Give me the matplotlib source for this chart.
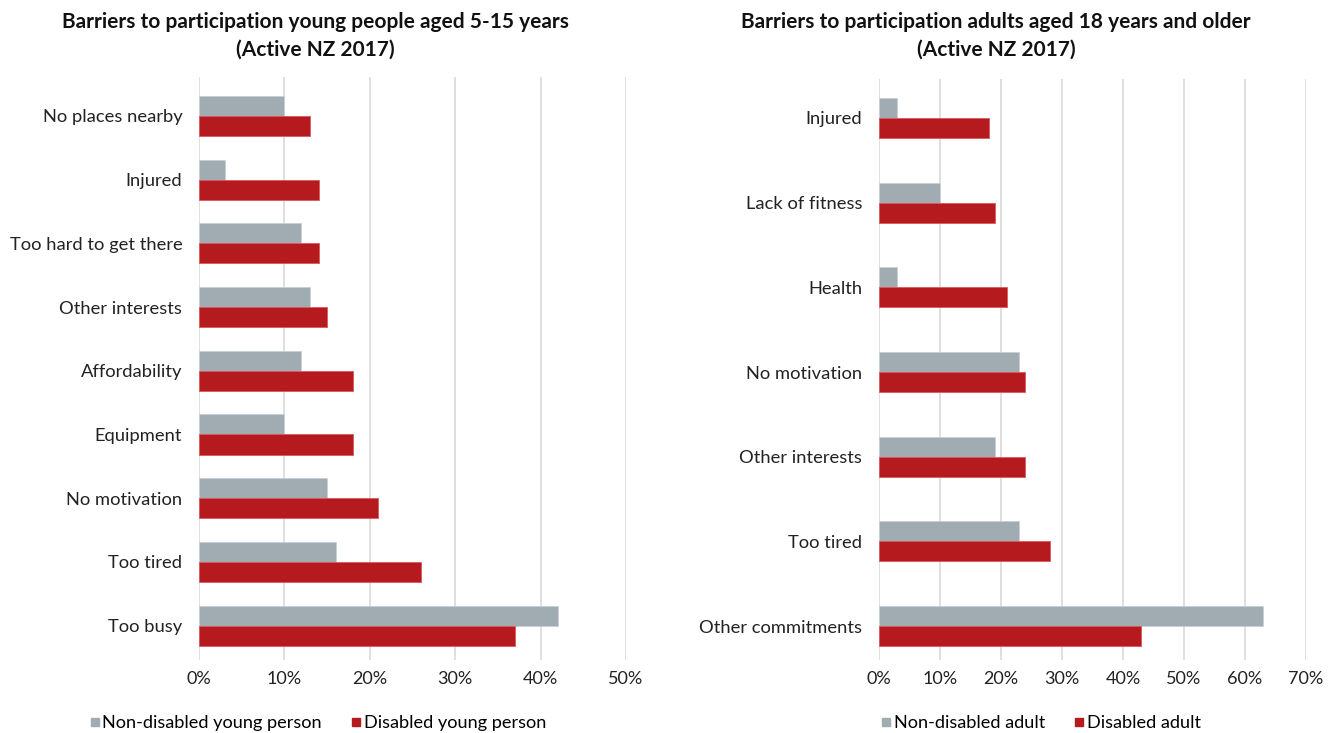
import matplotlib.pyplot as plt
from matplotlib.lines import Line2D
from matplotlib.ticker import PercentFormatter

plt.rcParams['font.family'] = ['Lato', 'DejaVu Sans']

GREY = '#a0abb2'
RED = '#b51a1f'

# young people aged 5-15, top to bottom
young_labels = ['No places nearby', 'Injured', 'Too hard to get there', 'Other interests',
                'Affordability', 'Equipment', 'No motivation', 'Too tired', 'Too busy']
young_nondisabled = [10, 3, 12, 13, 12, 10, 15, 16, 42]
young_disabled = [13, 14, 14, 15, 18, 18, 21, 26, 37]

# adults 18+, top to bottom
adult_labels = ['Injured', 'Lack of fitness', 'Health', 'No motivation',
                'Other interests', 'Too tired', 'Other commitments']
adult_nondisabled = [3, 10, 3, 23, 19, 23, 63]
adult_disabled = [18, 19, 21, 24, 24, 28, 43]

W, H = 1341, 733
fig = plt.figure(figsize=(W / 100, H / 100), dpi=100)


def panel(rect, labels, grey_vals, red_vals, xmax, bar_h, ylims):
    ax = fig.add_axes(rect)
    y = range(len(labels))
    ax.barh([i - bar_h / 2 for i in y], grey_vals, height=bar_h, color=GREY,
            edgecolor='#c9d0d4', linewidth=0.6, zorder=3)
    ax.barh([i + bar_h / 2 for i in y], red_vals, height=bar_h, color=RED,
            edgecolor='#d9585c', linewidth=0.6, zorder=3)
    ax.set_yticks(list(y))
    ax.set_yticklabels(labels, fontsize=13.2, color='#222222')
    ax.set_ylim(*ylims)
    ax.set_xlim(0, xmax)
    ax.set_xticks(range(0, xmax + 1, 10))
    ax.xaxis.set_major_formatter(PercentFormatter(decimals=0))
    ax.tick_params(axis='x', labelsize=13, colors='#222222', length=0, pad=8)
    ax.tick_params(axis='y', length=0, pad=12)
    ax.grid(axis='x', color='#d9d9d9', linewidth=1.2, zorder=0)
    for s in ax.spines.values():
        s.set_visible(False)
    return ax


# left panel: young people
ax1 = panel([199 / W, 1 - 660 / H, 427 / W, 583 / H], young_labels,
            young_nondisabled, young_disabled, 50, 0.315, (8.54, -0.61))
# right panel: adults
ax2 = panel([879 / W, 1 - 660 / H, 427 / W, 581 / H], adult_labels,
            adult_nondisabled, adult_disabled, 70, 0.236, (6.40, -0.46))

title_kw = dict(ha='center', va='center', fontsize=15, fontweight='bold', color='#111111')
fig.text(315 / W, 1 - 23 / H, 'Barriers to participation young people aged 5-15 years\n'
         '(Active NZ 2017)', linespacing=1.5, **title_kw)
fig.text(996 / W, 1 - 23 / H, 'Barriers to participation adults aged 18 years and older\n'
         '(Active NZ 2017)', linespacing=1.5, **title_kw)
for t in fig.texts:
    t.set_va('top')
    t.set_y(1 - 12 / H)


def square(c):
    return Line2D([], [], marker='s', linestyle='', markersize=5.5, color=c)


leg_kw = dict(ncol=2, frameon=False, fontsize=13.1, handletextpad=-0.1,
              columnspacing=1.4, handlelength=1.0, loc='center')
fig.legend([square(GREY), square(RED)], ['Non-disabled young person', 'Disabled young person'],
           bbox_to_anchor=(316 / W, 1 - 723 / H), **leg_kw)
fig.legend([square(GREY), square(RED)], ['Non-disabled adult', 'Disabled adult'],
           bbox_to_anchor=(1039 / W, 1 - 723 / H), **leg_kw)

fig.savefig('out.png', dpi=100)
